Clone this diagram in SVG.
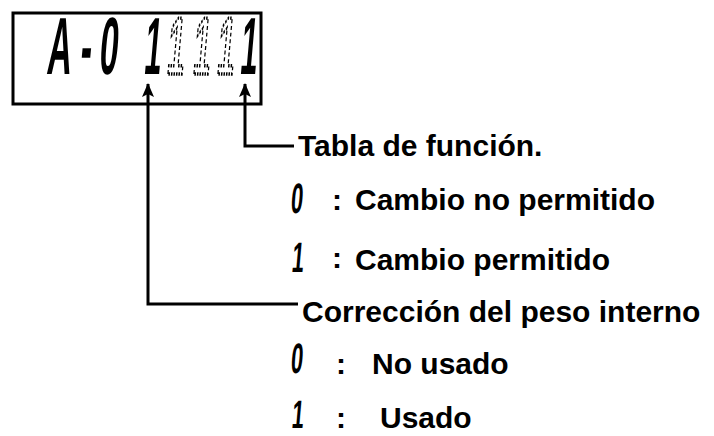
<svg xmlns="http://www.w3.org/2000/svg" width="714" height="436" viewBox="0 0 714 436">
<style>
.lbl{font-family:"Liberation Sans",Arial,sans-serif;font-weight:bold;font-size:30px;fill:#000}
.seg{font-family:"Liberation Sans",Arial,sans-serif;font-weight:bold;fill:#000}
.big{font-size:61px}
.sm{font-size:36px}
.dot{fill:none;stroke:#000;stroke-width:2.5;stroke-dasharray:3 2}
.ln{fill:none;stroke:#000;stroke-width:3}
</style>
<defs>
<marker id="ah" markerWidth="12" markerHeight="14" refX="6" refY="1" orient="0" markerUnits="userSpaceOnUse">
<path d="M6,0 L12,14 L6,11 L0,14 Z" fill="#000"/>
</marker>
</defs>
<rect width="714" height="436" fill="#fff"/>
<g id="display">
<rect x="13" y="13" width="248" height="91" fill="none" stroke="#000" stroke-width="3"/>
<text class="seg big" transform="translate(46,74) skewX(-5) scale(0.55,1.33)">A</text>
<text class="seg big" transform="translate(79,74) skewX(-5) scale(0.55,1.33)">-</text>
<text class="seg big" transform="translate(98,74) skewX(-5) scale(0.55,1.33)">0</text>
<text class="seg big" transform="translate(143,74) skewX(-5) scale(0.5,1.33)">1</text>
<text class="seg big dot" transform="translate(166,74) skewX(-5) scale(0.5,1.33)">1</text>
<text class="seg big dot" transform="translate(192,74) skewX(-5) scale(0.5,1.33)">1</text>
<text class="seg big dot" transform="translate(216,74) skewX(-5) scale(0.5,1.33)">1</text>
<text class="seg big" transform="translate(239,74) skewX(-5) scale(0.5,1.33)">1</text>
</g>
<g id="connectors">
<path class="ln" d="M245,84 V146 H294" marker-start="url(#ah)"/>
<path class="ln" d="M148,84 V304 H298" marker-start="url(#ah)"/>
</g>
<g id="tabla">
<text class="lbl" x="298" y="156">Tabla de función.</text>
<text class="seg sm" transform="translate(290,213) skewX(-5) scale(0.6,1.18)">0</text>
<text class="lbl" x="332" y="210">:</text>
<text class="lbl" x="355" y="210">Cambio no permitido</text>
<text class="seg sm" transform="translate(291,272) skewX(-5) scale(0.6,1.18)">1</text>
<text class="lbl" x="332" y="268">:</text>
<text class="lbl" x="355" y="270">Cambio permitido</text>
</g>
<g id="correccion">
<text class="lbl" x="302" y="322">Corrección del peso interno</text>
<text class="seg sm" transform="translate(290,373) skewX(-5) scale(0.6,1.18)">0</text>
<text class="lbl" x="336" y="374">:</text>
<text class="lbl" x="372" y="374">No usado</text>
<text class="seg sm" transform="translate(291,428) skewX(-5) scale(0.6,1.1)">1</text>
<text class="lbl" x="336" y="428">:</text>
<text class="lbl" x="380" y="428">Usado</text>
</g>
</svg>
